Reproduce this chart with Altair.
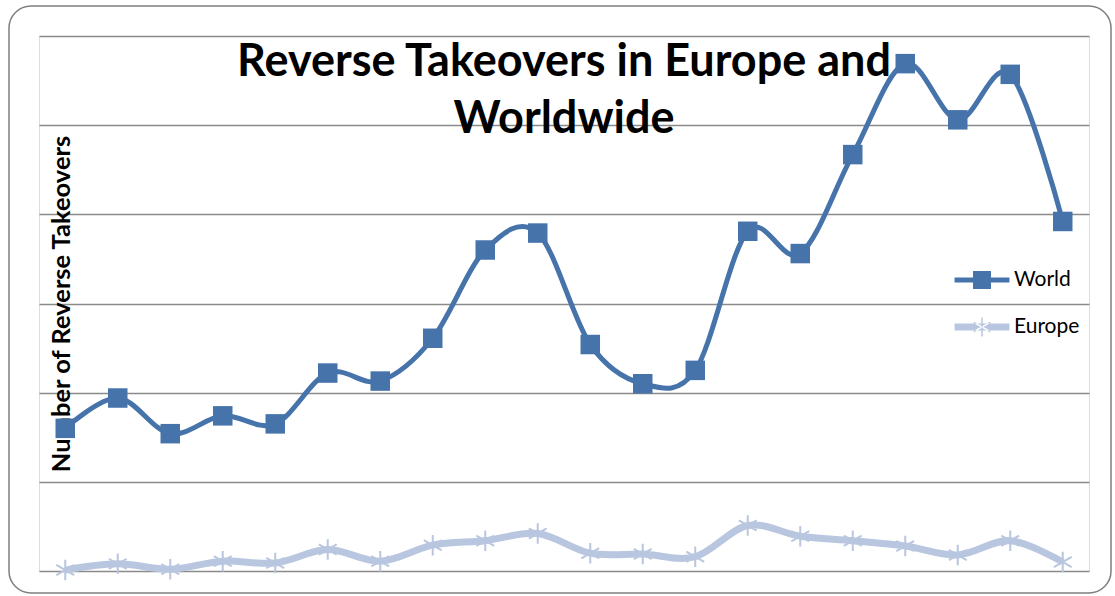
import altair as alt
import pandas as pd

periods = [str(y) for y in range(1990, 2010)]
world = [16.0, 19.4, 15.4, 17.4, 16.5, 22.2, 21.3, 26.1, 36.0, 37.9,
         25.4, 21.0, 22.5, 38.1, 35.6, 46.7, 56.9, 50.6, 55.7, 39.2]
europe = [0.1, 0.8, 0.2, 1.1, 0.9, 2.4, 1.1, 2.9, 3.4, 4.2,
          2.0, 1.9, 1.6, 5.1, 3.9, 3.4, 2.8, 1.8, 3.4, 1.0]
series = ["World", "Europe"]
colors = ["#4673AA", "#B9C6E0"]

df = pd.DataFrame({
    "period": periods * 2,
    "value": world + europe,
    "series": ["World"] * len(periods) + ["Europe"] * len(periods),
})

ASTER = "M0,-1 V1 M-0.87,-0.5 L0.87,0.5 M-0.87,0.5 L0.87,-0.5"
LEG_WORLD = "M-1.83,-0.17 H1.83 V0.17 H-1.83 Z M-0.6,-0.6 H0.6 V0.6 H-0.6 Z"
LEG_EUROPE = ("M-1.83,-0.23 H1.83 V0.23 H-1.83 Z "
              "M-0.05,-0.63 H0.05 V0.63 H-0.05 Z "
              "M0.521,0.358 L0.571,0.272 L-0.521,-0.358 L-0.571,-0.272 Z "
              "M0.571,-0.272 L0.521,-0.358 L-0.571,0.272 L-0.521,0.358 Z")

W, H = 1050, 535

x = alt.X("period:O", axis=None,
          scale=alt.Scale(type="point", padding=0.5))
y = alt.Y("value:Q",
          scale=alt.Scale(domain=[0, 60], nice=False),
          axis=alt.Axis(values=[0, 10, 20, 30, 40, 50, 60], labels=False,
                        ticks=False, domain=False, grid=True, zindex=0,
                        gridColor="#8A8A8A", gridWidth=1.6,
                        title="Number of Reverse Takeovers",
                        titleFont="Lato", titleFontSize=25.5,
                        titleFontWeight="bold", titleColor="black",
                        titleAngle=-90, titleX=22, titleY=H / 2,
                        titleAlign="center", titleBaseline="middle"))
cscale = alt.Scale(domain=series, range=colors)
leg = alt.Legend(title=None, orient="none", legendX=928, legendY=229,
                 labelFont="Lato", labelFontSize=21, labelColor="black",
                 labelOffset=17, symbolSize=900, rowPadding=22,
                 padding=0, symbolOpacity=1, symbolStrokeWidth=0)

border = alt.Chart(pd.DataFrame({"a": [0]})).mark_rect(
    fillOpacity=0, stroke="#7F7F7F", strokeWidth=1.5, cornerRadius=22
).encode(x=alt.value(-30), x2=alt.value(1072), y=alt.value(-30), y2=alt.value(557))

base = alt.Chart(df)

europe_line = base.transform_filter("datum.series === 'Europe'").mark_line(
    interpolate="cardinal", strokeWidth=7, color="#B9C6E0").encode(x=x, y=y)
europe_pts = base.transform_filter("datum.series === 'Europe'").mark_point(
    shape=ASTER, size=420, filled=False, strokeWidth=2, opacity=1,
    color="#B9C6E0").encode(x=x, y=y)
world_line = base.transform_filter("datum.series === 'World'").mark_line(
    interpolate="cardinal", strokeWidth=5, color="#4673AA").encode(x=x, y=y)
world_pts = base.transform_filter("datum.series === 'World'").mark_point(
    shape="square", size=380, filled=True, opacity=1,
    color="#4673AA").encode(x=x, y=y)

legend_layer = base.mark_point(filled=True, opacity=0).encode(
    x=x, y=y,
    color=alt.Color("series:N", scale=cscale, legend=leg),
    shape=alt.Shape("series:N",
                    scale=alt.Scale(domain=series, range=[LEG_WORLD, LEG_EUROPE]),
                    legend=leg))

chart = alt.layer(border, europe_line, europe_pts, world_line, world_pts,
                  legend_layer).properties(
    width=W, height=H,
    title=alt.TitleParams(
        text=["Reverse Takeovers in Europe and", "Worldwide"],
        font="Lato", fontSize=45, fontWeight="bold", color="black",
        anchor="middle", lineHeight=57, offset=-137),
    autosize=alt.AutoSizeParams(type="none"),
    padding={"left": 39, "top": 36, "right": 26, "bottom": 25},
).configure_view(stroke=None).configure(background="white")

chart.save("out.html", embed_options={"renderer": "svg", "actions": False})
